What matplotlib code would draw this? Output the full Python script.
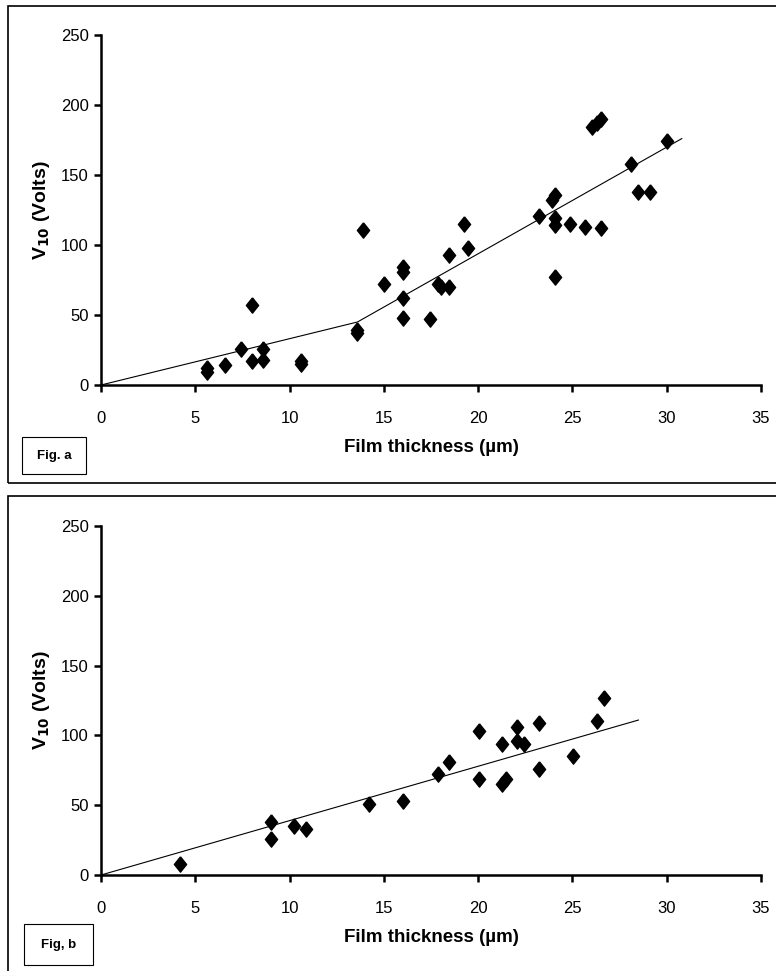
import numpy as np
import matplotlib.pyplot as plt
from matplotlib.patches import Rectangle

plt.rcParams['font.family'] = ['Liberation Sans', 'DejaVu Sans']

# Fig. a data (film thickness in um, V10 in volts)
thick_a = [5.6, 5.6, 6.6, 7.4, 8.0, 8.0, 8.6, 8.6, 10.6, 10.6, 13.6, 13.6, 13.9,
           15.0, 16.0, 16.0, 16.0, 16.0, 17.45, 17.85, 18.05, 18.45, 18.45,
           19.25, 19.45, 23.25, 23.9, 24.05, 24.05, 24.05, 24.05, 24.85, 25.65,
           26.5, 26.05, 26.3, 26.5, 28.1, 28.5, 29.1, 30.0]
volts_a = [12, 9, 14, 26, 57, 17, 26, 18, 15, 17, 39, 37, 111,
           72, 84, 81, 62, 48, 47, 72, 70, 70, 93,
           115, 98, 121, 132, 136, 119, 114, 77, 115, 113,
           112, 184, 187, 190, 158, 138, 138, 174]
# piecewise trend line
trend_a_x = [0, 13.6, 30.8]
trend_a_y = [0, 45, 176]

# Fig. b data
thick_b = [4.2, 9.0, 9.0, 10.25, 10.85, 14.2, 16.0, 17.85, 18.45, 20.05, 20.05,
           21.25, 21.25, 21.5, 22.05, 22.05, 22.45, 23.25, 23.25, 25.05, 26.3, 26.7]
volts_b = [8, 38, 26, 35, 33, 51, 53, 72, 81, 103, 69,
           94, 65, 69, 106, 96, 94, 109, 76, 85, 110, 127]
trend_b_x = [0, 28.5]
trend_b_y = [0, 111]

diamond = [(0, 1), (0.8, 0), (0, -1), (-0.8, 0), (0, 1)]

fig = plt.figure(figsize=(7.76, 9.71), dpi=100)
W, H = 776, 971

# outer frames around each panel
fig.patches.append(Rectangle((8 / W, 1 - 483 / H), 780 / W, 477 / H, transform=fig.transFigure,
                             fill=False, lw=1.2, ec='black'))
fig.patches.append(Rectangle((8 / W, -0.01), 780 / W, 1 - 496 / H + 0.01, transform=fig.transFigure,
                             fill=False, lw=1.2, ec='black'))


def panel(top_px, bot_px, xs, ys, tx, ty, label, box):
    ax = fig.add_axes([101 / W, 1 - bot_px / H, 660 / W, (bot_px - top_px) / H])
    ax.plot(xs, ys, linestyle='none', marker=diamond, ms=11, color='black', clip_on=False)
    ax.plot(tx, ty, color='black', lw=0.8)
    ax.set_xlim(0, 35)
    ax.set_ylim(0, 250)
    ax.set_xticks(np.arange(0, 36, 5))
    ax.set_yticks(np.arange(0, 251, 50))
    for s in ['top', 'right']:
        ax.spines[s].set_visible(False)
    for s in ['left', 'bottom']:
        ax.spines[s].set_linewidth(1.8)
    ax.tick_params(axis='both', direction='out', length=5, width=1.8, labelsize=12)
    ax.tick_params(axis='x', pad=14)
    ax.tick_params(axis='y', pad=4)
    ax.set_xlabel('Film thickness (µm)', fontsize=13.5, fontweight='bold', labelpad=9)
    ax.set_ylabel('V$_{\\mathbf{10}}$ (Volts)', fontsize=14, fontweight='bold', labelpad=6)
    bx0, by0, bx1, by1 = box
    fig.patches.append(Rectangle((bx0 / W, 1 - by1 / H), (bx1 - bx0) / W, (by1 - by0) / H,
                                 transform=fig.transFigure, fill=False, lw=0.8, ec='black'))
    fig.text((bx0 + bx1) / 2 / W, 1 - (by0 + by1) / 2 / H, label, fontsize=9.5,
             fontweight='bold', ha='center', va='center')
    return ax


panel(35, 385, thick_a, volts_a, trend_a_x, trend_a_y, 'Fig. a', (22, 437, 86, 474))
panel(526, 875, thick_b, volts_b, trend_b_x, trend_b_y, 'Fig, b', (24, 924, 93, 965))

fig.savefig('out.png', dpi=100)
